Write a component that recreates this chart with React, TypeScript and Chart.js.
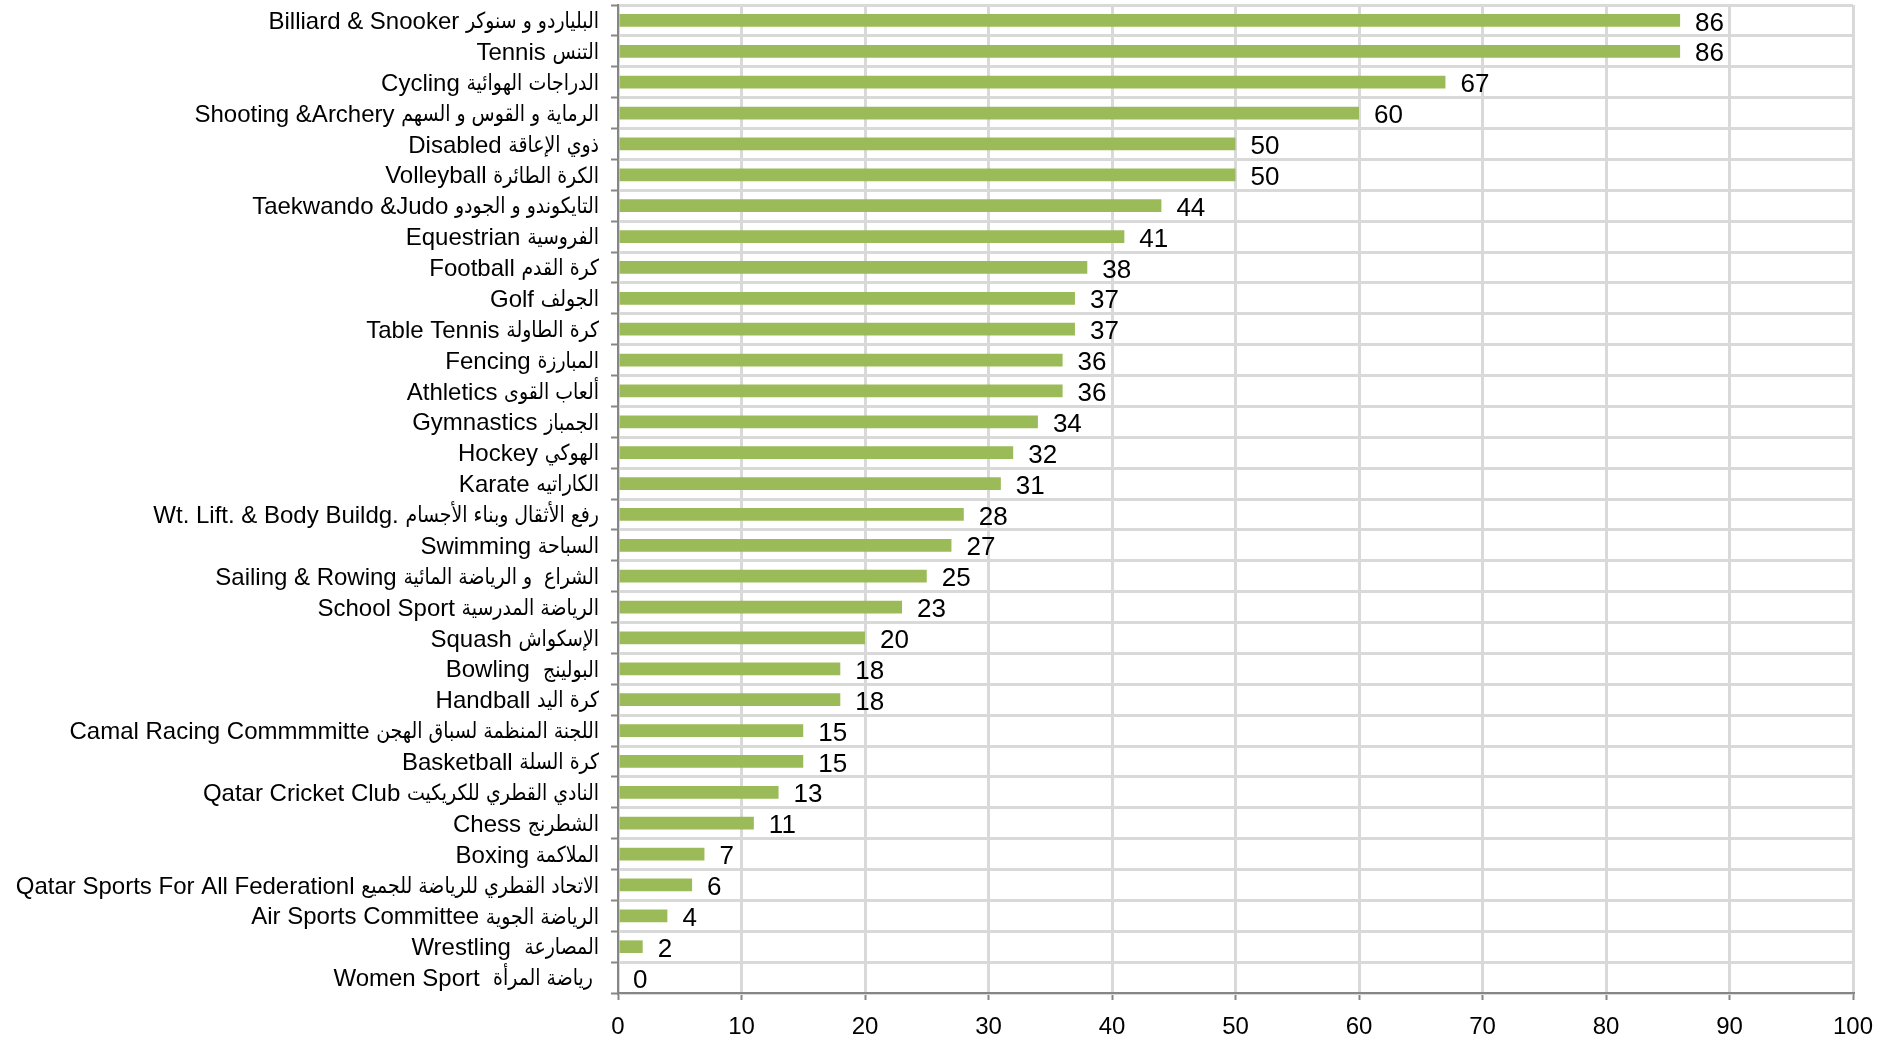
import React, { useEffect, useRef } from "react";
import { Chart, registerables } from "chart.js";

Chart.register(...registerables);

const englishLabels: string[] = [
  "Billiard & Snooker",
  "Tennis",
  "Cycling",
  "Shooting &Archery",
  "Disabled",
  "Volleyball",
  "Taekwando &Judo",
  "Equestrian",
  "Football",
  "Golf",
  "Table Tennis",
  "Fencing",
  "Athletics",
  "Gymnastics",
  "Hockey",
  "Karate",
  "Wt. Lift. & Body Buildg.",
  "Swimming",
  "Sailing & Rowing",
  "School Sport",
  "Squash",
  "Bowling ",
  "Handball",
  "Camal Racing Commmmitte",
  "Basketball",
  "Qatar Cricket Club",
  "Chess",
  "Boxing",
  "Qatar Sports For All Federationl",
  "Air Sports Committee",
  "Wrestling ",
  "Women Sport ",
];

const arabicLabels: string[] = [
  "البلياردو و سنوكر",
  "التنس",
  "الدراجات الهوائية",
  "الرماية و القوس و السهم",
  "ذوي الإعاقة",
  "الكرة الطائرة",
  "التايكوندو و الجودو",
  "الفروسية",
  "كرة القدم",
  "الجولف",
  "كرة الطاولة",
  "المبارزة",
  "ألعاب القوى",
  "الجمباز",
  "الهوكي",
  "الكاراتيه",
  "رفع الأثقال وبناء الأجسام",
  "السباحة",
  "الشراع  و الرياضة المائية",
  "الرياضة المدرسية",
  "الإسكواش",
  "البولينج",
  "كرة اليد",
  "اللجنة المنظمة لسباق الهجن",
  "كرة السلة",
  "النادي القطري للكريكيت",
  "الشطرنج",
  "الملاكمة",
  "الاتحاد القطري للرياضة للجميع",
  "الرياضة الجوية",
  "المصارعة",
  "رياضة المرأة ",
];

const categories: string[] = englishLabels.map(
  (en, i) => `${en} ${arabicLabels[i]}`
);

const values: number[] = [
  86, 86, 67, 60, 50, 50, 44, 41, 38, 37, 37, 36, 36, 34, 32, 31, 28, 27, 25,
  23, 20, 18, 18, 15, 15, 13, 11, 7, 6, 4, 2, 0,
];

const xMin = 0;
const xMax = 100;
const xStep = 10;

const FONT = '"Liberation Sans", Arial, "DejaVu Sans", sans-serif';
const AR_FONT = '"DejaVu Sans", sans-serif';
const AR_SCALE = 0.86;

const valueLabels = {
  id: "valueLabels",
  afterDatasetsDraw(chart: any) {
    const ctx = chart.ctx;
    const meta = chart.getDatasetMeta(0);
    ctx.save();
    ctx.font = `26px ${FONT}`;
    ctx.fillStyle = "#000";
    ctx.textAlign = "left";
    ctx.textBaseline = "middle";
    meta.data.forEach((bar: any, i: number) => {
      ctx.fillText(String(values[i]), bar.x + 15, bar.y + 3);
    });
    ctx.restore();
  },
};

const categoryLabels = {
  id: "categoryLabels",
  afterDraw(chart: any) {
    const ctx = chart.ctx;
    const yScale = chart.scales.y;
    const xRight = chart.chartArea.left - 7 - 12;
    ctx.save();
    ctx.fillStyle = "#000";
    ctx.textBaseline = "middle";
    englishLabels.forEach((en, i) => {
      const cy = yScale.getPixelForValue(i) + 2;
      ctx.font = `22px ${AR_FONT}`;
      const arW = ctx.measureText(arabicLabels[i]).width * AR_SCALE;
      ctx.save();
      ctx.translate(xRight, cy);
      ctx.scale(AR_SCALE, 1);
      ctx.textAlign = "right";
      ctx.fillText(arabicLabels[i], 0, 0);
      ctx.restore();
      ctx.font = `24px ${FONT}`;
      ctx.textAlign = "right";
      ctx.fillText(en + " ", xRight - arW, cy);
    });
    ctx.restore();
  },
};

export default function App() {
  const ref = useRef<HTMLCanvasElement | null>(null);

  useEffect(() => {
    if (!ref.current) return;
    const chart = new Chart(ref.current, {
      type: "bar",
      data: {
        labels: categories,
        datasets: [
          {
            data: values,
            backgroundColor: "#9BBB59",
            borderWidth: 0,
            barPercentage: 0.82,
            categoryPercentage: 0.5,
          },
        ],
      },
      options: {
        indexAxis: "y",
        animation: false,
        responsive: true,
        maintainAspectRatio: false,
        layout: { padding: { top: 5, right: 42, bottom: 0, left: 0 } },
        plugins: {
          legend: { display: false },
          tooltip: { enabled: false },
        },
        scales: {
          x: {
            min: xMin,
            max: xMax,
            ticks: {
              stepSize: xStep,
              color: "#000",
              font: { family: FONT, size: 24 },
              padding: 13,
              maxRotation: 0,
              autoSkip: false,
            },
            grid: {
              color: "#d9d9d9",
              lineWidth: 3,
              tickColor: "#868686",
              tickLength: 7,
              tickWidth: 2,
            },
            border: { color: "#868686", width: 2 },
            afterFit(scale: any) {
              scale.height = 47;
              scale.paddingLeft = 0;
              scale.paddingRight = 0;
            },
          },
          y: {
            ticks: {
              display: false,
              autoSkip: false,
            },
            grid: {
              color: "#d9d9d9",
              lineWidth: 3,
              tickColor: "#868686",
              tickLength: 7,
              tickWidth: 2,
              offset: true,
            },
            border: { color: "#868686", width: 2 },
            afterFit(scale: any) {
              scale.width = 618;
              scale.paddingTop = 0;
              scale.paddingBottom = 0;
            },
          },
        },
      },
      plugins: [valueLabels, categoryLabels],
    });
    return () => chart.destroy();
  }, []);

  return (
    <div
      style={{
        position: "absolute",
        left: 0,
        top: 0,
        width: "1895px",
        height: "1040px",
        background: "#fff",
      }}
    >
      <canvas ref={ref} />
    </div>
  );
}
